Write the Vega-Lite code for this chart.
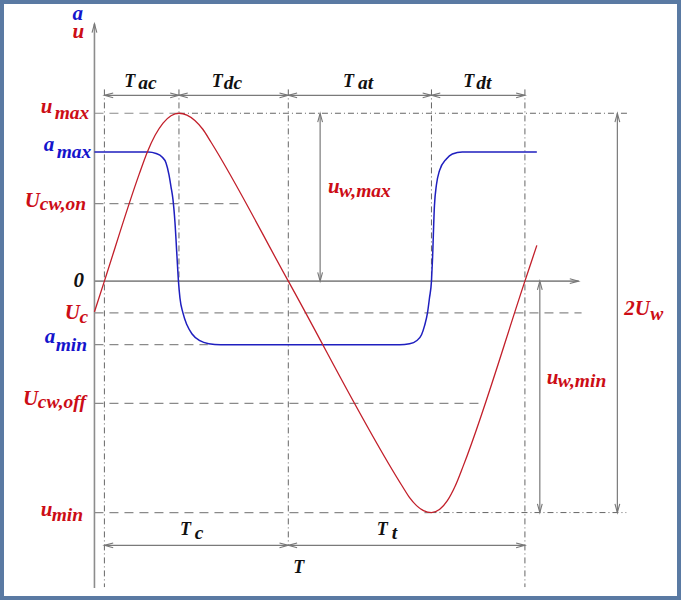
{
  "$schema": "https://vega.github.io/schema/vega-lite/v6.json",
  "width": 681,
  "height": 600,
  "padding": 0,
  "autosize": {"type": "fit", "contains": "padding"},
  "background": "white",
  "config": {"view": {"stroke": null}, "axis": {"disable": true}},
  "datasets": {
    "frame": [{"t1": -93, "t2": 588, "u1": 281, "u2": -319}],
    "red": [
      {"t": 0, "u": -31}, {"t": 10, "u": 0}, {"t": 45, "u": 107.7}, {"t": 53, "u": 129.6},
      {"t": 61, "u": 146.8}, {"t": 69, "u": 159.1}, {"t": 77, "u": 166.5}, {"t": 85, "u": 169},
      {"t": 93, "u": 167.2}, {"t": 101, "u": 161.8}, {"t": 109, "u": 152.9}, {"t": 117, "u": 140.3},
      {"t": 195, "u": 0}, {"t": 310, "u": -207}, {"t": 317, "u": -218}, {"t": 324, "u": -226},
      {"t": 331, "u": -231}, {"t": 339, "u": -233}, {"t": 347, "u": -230}, {"t": 355, "u": -221},
      {"t": 363, "u": -206}, {"t": 371, "u": -186}, {"t": 433, "u": 0}, {"t": 445, "u": 36}
    ],
    "blue": [
      {"t": 0, "u": 130}, {"t": 54, "u": 130}, {"t": 62, "u": 128.5}, {"t": 68, "u": 125},
      {"t": 72, "u": 119}, {"t": 75, "u": 107}, {"t": 77, "u": 95}, {"t": 79, "u": 82},
      {"t": 81, "u": 59}, {"t": 83, "u": 25}, {"t": 84.5, "u": 0}, {"t": 86, "u": -17},
      {"t": 89, "u": -32}, {"t": 93, "u": -44}, {"t": 98, "u": -53}, {"t": 106, "u": -60},
      {"t": 115, "u": -63}, {"t": 127, "u": -64}, {"t": 307, "u": -64}, {"t": 317, "u": -63},
      {"t": 324, "u": -60}, {"t": 329, "u": -54}, {"t": 332, "u": -45}, {"t": 335, "u": -32},
      {"t": 337, "u": -17}, {"t": 339, "u": 0}, {"t": 340, "u": 21}, {"t": 342, "u": 76},
      {"t": 344, "u": 97}, {"t": 347, "u": 111}, {"t": 354, "u": 123}, {"t": 360, "u": 128},
      {"t": 370, "u": 130}, {"t": 445, "u": 130}
    ],
    "dashed": [
      {"t1": 0, "t2": 85, "u1": 169, "u2": 169},
      {"t1": 0, "t2": 147, "u1": 78, "u2": 78},
      {"t1": 0, "t2": 490, "u1": -32, "u2": -32},
      {"t1": 0, "t2": 114, "u1": -64, "u2": -64},
      {"t1": 0, "t2": 392, "u1": -123, "u2": -123},
      {"t1": 0, "t2": 338, "u1": -233, "u2": -233}
    ],
    "dashdot": [
      {"t1": 85, "t2": 537, "u1": 169, "u2": 169},
      {"t1": 338, "t2": 535, "u1": -233, "u2": -233},
      {"t1": 10, "t2": 10, "u1": 193, "u2": -308},
      {"t1": 85, "t2": 85, "u1": 193, "u2": 0},
      {"t1": 195, "t2": 195, "u1": 193, "u2": -266},
      {"t1": 339, "t2": 339, "u1": 193, "u2": 0},
      {"t1": 433, "t2": 433, "u1": 193, "u2": -308}
    ],
    "dims": [
      {"t1": 10, "t2": 433, "u1": 187, "u2": 187},
      {"t1": 10, "t2": 433, "u1": -266, "u2": -266},
      {"t1": 227, "t2": 227, "u1": 169, "u2": 0},
      {"t1": 448, "t2": 448, "u1": 0, "u2": -233},
      {"t1": 526, "t2": 526, "u1": 169, "u2": -233}
    ],
    "axes": [
      {"t1": 0, "t2": 0, "u1": -309, "u2": 259},
      {"t1": 0, "t2": 487, "u1": 0, "u2": 0}
    ],
    "arrows": [
      {"t": 0, "u": 259, "dir": "up"}, {"t": 487, "u": 0, "dir": "right"},
      {"t": 10, "u": 187, "dir": "left"}, {"t": 85, "u": 187, "dir": "left"},
      {"t": 195, "u": 187, "dir": "left"}, {"t": 339, "u": 187, "dir": "left"},
      {"t": 85, "u": 187, "dir": "right"}, {"t": 195, "u": 187, "dir": "right"},
      {"t": 339, "u": 187, "dir": "right"}, {"t": 433, "u": 187, "dir": "right"},
      {"t": 10, "u": -266, "dir": "left"}, {"t": 195, "u": -266, "dir": "left"},
      {"t": 195, "u": -266, "dir": "right"}, {"t": 433, "u": -266, "dir": "right"},
      {"t": 227, "u": 169, "dir": "up"}, {"t": 227, "u": 0, "dir": "down"},
      {"t": 448, "u": 0, "dir": "up"}, {"t": 448, "u": -233, "dir": "down"},
      {"t": 526, "u": 169, "dir": "up"}, {"t": 526, "u": -233, "dir": "down"}
    ],
    "labels": [
      {"t": -22, "u": 263, "txt": "a", "kind": "main", "col": "b"},
      {"t": -22, "u": 245, "txt": "u", "kind": "main", "col": "r"},
      {"t": -54, "u": 169, "txt": "u", "kind": "main", "col": "r"},
      {"t": -40, "u": 163, "txt": "max", "kind": "sub", "col": "r"},
      {"t": -51, "u": 131, "txt": "a", "kind": "main", "col": "b"},
      {"t": -38, "u": 124, "txt": "max", "kind": "sub", "col": "b"},
      {"t": -70, "u": 75, "txt": "U", "kind": "main", "col": "r"},
      {"t": -55, "u": 72, "txt": "cw,on", "kind": "sub", "col": "r"},
      {"t": -21, "u": -6, "txt": "0", "kind": "main", "col": "k"},
      {"t": -30, "u": -38, "txt": "U", "kind": "main", "col": "r"},
      {"t": -15, "u": -42, "txt": "c", "kind": "sub", "col": "r"},
      {"t": -50, "u": -62, "txt": "a", "kind": "main", "col": "b"},
      {"t": -39, "u": -70, "txt": "min", "kind": "sub", "col": "b"},
      {"t": -72, "u": -125, "txt": "U", "kind": "main", "col": "r"},
      {"t": -57, "u": -128, "txt": "cw,off", "kind": "sub", "col": "r"},
      {"t": -54, "u": -236, "txt": "u", "kind": "main", "col": "r"},
      {"t": -43, "u": -241, "txt": "min", "kind": "sub", "col": "r"},
      {"t": 30, "u": 195, "txt": "T", "kind": "tmain", "col": "k"},
      {"t": 44, "u": 193, "txt": "ac", "kind": "sub", "col": "k"},
      {"t": 118, "u": 195, "txt": "T", "kind": "tmain", "col": "k"},
      {"t": 130, "u": 193, "txt": "dc", "kind": "sub", "col": "k"},
      {"t": 250, "u": 195, "txt": "T", "kind": "tmain", "col": "k"},
      {"t": 265, "u": 193, "txt": "at", "kind": "sub", "col": "k"},
      {"t": 371, "u": 195, "txt": "T", "kind": "tmain", "col": "k"},
      {"t": 384, "u": 193, "txt": "dt", "kind": "sub", "col": "k"},
      {"t": 86, "u": -256, "txt": "T", "kind": "tmain", "col": "k"},
      {"t": 101, "u": -260, "txt": "c", "kind": "sub", "col": "k"},
      {"t": 284, "u": -256, "txt": "T", "kind": "tmain", "col": "k"},
      {"t": 299, "u": -260, "txt": "t", "kind": "sub", "col": "k"},
      {"t": 200, "u": -294, "txt": "T", "kind": "tmain", "col": "k"},
      {"t": 235, "u": 89, "txt": "u", "kind": "main", "col": "r"},
      {"t": 246, "u": 85, "txt": "w,max", "kind": "sub", "col": "r"},
      {"t": 455, "u": -104, "txt": "u", "kind": "main", "col": "r"},
      {"t": 466, "u": -107, "txt": "w,min", "kind": "sub", "col": "r"},
      {"t": 533, "u": -34, "txt": "2U", "kind": "main", "col": "r"},
      {"t": 559, "u": -39, "txt": "w", "kind": "sub", "col": "r"}
    ]
  },
  "encoding": {
    "x": {"type": "quantitative", "scale": {"domain": [-93, 588], "nice": false, "zero": false}, "axis": null},
    "y": {"type": "quantitative", "scale": {"domain": [-319, 281], "nice": false, "zero": false}, "axis": null}
  },
  "layer": [
    {
      "data": {"name": "frame"},
      "mark": {"type": "rect", "fill": null, "fillOpacity": 0, "stroke": "#5a7aa3", "strokeWidth": 4},
      "encoding": {"x": {"field": "t1", "type": "quantitative"}, "x2": {"field": "t2"}, "y": {"field": "u1", "type": "quantitative"}, "y2": {"field": "u2"}}
    },
    {
      "data": {"name": "dashed"},
      "mark": {"type": "rule", "stroke": "#8a8a8a", "strokeWidth": 1.2, "strokeDash": [9, 6]},
      "encoding": {"x": {"field": "t1", "type": "quantitative"}, "x2": {"field": "t2"}, "y": {"field": "u1", "type": "quantitative"}, "y2": {"field": "u2"}}
    },
    {
      "data": {"name": "dashdot"},
      "mark": {"type": "rule", "stroke": "#666666", "strokeWidth": 1, "strokeDash": [6, 3, 1, 3]},
      "encoding": {"x": {"field": "t1", "type": "quantitative"}, "x2": {"field": "t2"}, "y": {"field": "u1", "type": "quantitative"}, "y2": {"field": "u2"}}
    },
    {
      "data": {"name": "dims"},
      "mark": {"type": "rule", "stroke": "#7a7a7a", "strokeWidth": 1.2},
      "encoding": {"x": {"field": "t1", "type": "quantitative"}, "x2": {"field": "t2"}, "y": {"field": "u1", "type": "quantitative"}, "y2": {"field": "u2"}}
    },
    {
      "data": {"name": "axes"},
      "mark": {"type": "rule", "stroke": "#8c8c8c", "strokeWidth": 1.6},
      "encoding": {"x": {"field": "t1", "type": "quantitative"}, "x2": {"field": "t2"}, "y": {"field": "u1", "type": "quantitative"}, "y2": {"field": "u2"}}
    },
    {
      "data": {"name": "arrows"},
      "transform": [{"filter": "datum.dir === 'up'"}],
      "mark": {"type": "point", "shape": "M-0.6,2.2L0,0L0.6,2.2", "size": 64, "filled": false, "stroke": "#777777", "strokeWidth": 1.1, "angle": 0, "opacity": 1},
      "encoding": {"x": {"field": "t", "type": "quantitative"}, "y": {"field": "u", "type": "quantitative"}}
    },
    {
      "data": {"name": "arrows"},
      "transform": [{"filter": "datum.dir === 'right'"}],
      "mark": {"type": "point", "shape": "M-0.6,2.2L0,0L0.6,2.2", "size": 64, "filled": false, "stroke": "#777777", "strokeWidth": 1.1, "angle": 90, "opacity": 1},
      "encoding": {"x": {"field": "t", "type": "quantitative"}, "y": {"field": "u", "type": "quantitative"}}
    },
    {
      "data": {"name": "arrows"},
      "transform": [{"filter": "datum.dir === 'down'"}],
      "mark": {"type": "point", "shape": "M-0.6,2.2L0,0L0.6,2.2", "size": 64, "filled": false, "stroke": "#777777", "strokeWidth": 1.1, "angle": 180, "opacity": 1},
      "encoding": {"x": {"field": "t", "type": "quantitative"}, "y": {"field": "u", "type": "quantitative"}}
    },
    {
      "data": {"name": "arrows"},
      "transform": [{"filter": "datum.dir === 'left'"}],
      "mark": {"type": "point", "shape": "M-0.6,2.2L0,0L0.6,2.2", "size": 64, "filled": false, "stroke": "#777777", "strokeWidth": 1.1, "angle": 270, "opacity": 1},
      "encoding": {"x": {"field": "t", "type": "quantitative"}, "y": {"field": "u", "type": "quantitative"}}
    },
    {
      "data": {"name": "blue"},
      "mark": {"type": "line", "stroke": "#1f1fbf", "strokeWidth": 1.5, "interpolate": "monotone"},
      "encoding": {"x": {"field": "t", "type": "quantitative"}, "y": {"field": "u", "type": "quantitative"}}
    },
    {
      "data": {"name": "red"},
      "mark": {"type": "line", "stroke": "#c21f2a", "strokeWidth": 1.3, "interpolate": "monotone"},
      "encoding": {"x": {"field": "t", "type": "quantitative"}, "y": {"field": "u", "type": "quantitative"}}
    },
    {
      "data": {"name": "labels"},
      "mark": {"type": "text", "font": "Liberation Serif", "fontStyle": "italic", "fontWeight": "bold", "align": "left", "baseline": "alphabetic"},
      "encoding": {
        "x": {"field": "t", "type": "quantitative"},
        "y": {"field": "u", "type": "quantitative"},
        "text": {"field": "txt"},
        "size": {"field": "kind", "type": "ordinal", "scale": {"domain": ["main", "sub", "tmain"], "range": [21, 18, 21]}, "legend": null},
        "color": {"field": "col", "type": "nominal", "scale": {"domain": ["r", "b", "k"], "range": ["#cc0d16", "#1414cc", "#111111"]}, "legend": null}
      }
    }
  ]
}
